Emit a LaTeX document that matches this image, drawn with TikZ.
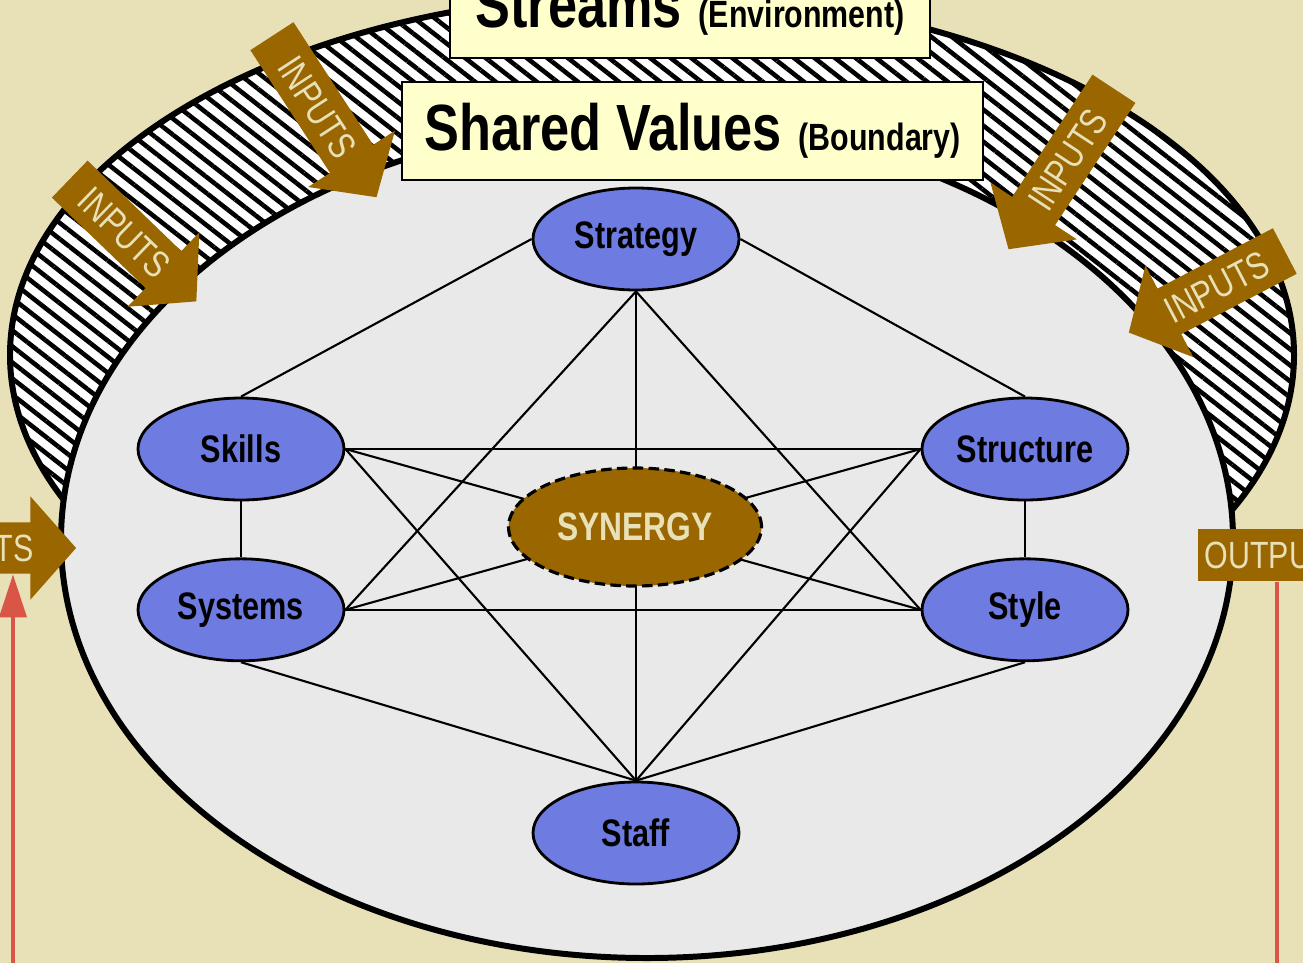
\documentclass[tikz,border=0pt]{standalone}
\usepackage{fontspec}
\setmainfont{Liberation Sans}
\newfontfamily\narrowfont{Liberation Sans}[FakeStretch=0.8]
\usetikzlibrary{arrows.meta,positioning,shapes.geometric,shapes.arrows,patterns.meta}
\definecolor{paper}{HTML}{E8E1B8}
\definecolor{umber}{HTML}{996600}
\definecolor{sevens}{HTML}{6E7BE0}
\definecolor{innergray}{HTML}{E9E9E9}
\definecolor{paleyellow}{HTML}{FFFFCC}
\definecolor{feedred}{HTML}{D95545}

\begin{document}
\begin{tikzpicture}[node distance=0.56cm,
  sfactor/.style={ellipse, draw, line width=0.8pt, fill=sevens, minimum width=2.06cm, minimum height=1.02cm, inner sep=0pt, font=\narrowfont\bfseries\fontsize{10.9}{12}\selectfont},
  link/.style={line width=0.6pt},
  banner/.style={draw, line width=0.8pt, fill=paleyellow, minimum height=0.98cm, inner sep=0pt, font=\narrowfont\bfseries},
  flow/.style={single arrow, fill=umber, text=paper, font=\narrowfont\fontsize{10.8}{12}\selectfont, single arrow head extend=0.26cm, single arrow tip angle=97, text height=0.27cm, text depth=0pt, inner ysep=0.115cm, inner xsep=0pt, minimum height=1.8cm},
  feedback/.style={line width=1.1pt, draw=feedred}]
\fill[paper] (0,0) rectangle (13.03,9.63);
\useasboundingbox (0,0) rectangle (13.03,9.63);

% environment ring and organisation
\draw[line width=1.7pt, preaction={fill=white}, pattern={Lines[angle=-38,distance=3.6pt,line width=1.3pt]}] (6.52,6.08) ellipse [x radius=6.42, y radius=3.61];
\draw[line width=1.7pt, fill=innergray] (6.47,4.23) ellipse [x radius=5.86, y radius=4.18];

\node[banner, minimum width=4.8cm] (streams) at (6.90,9.54) {{\fontsize{18.6}{20}\selectfont Streams}\hspace{0.17cm}{\fontsize{10.8}{12}\selectfont (Environment)}};
\node[banner, minimum width=5.81cm] (values) at (6.925,8.32) {{\fontsize{18.6}{20}\selectfont Shared Values}\hspace{0.17cm}{\fontsize{10.8}{12}\selectfont (Boundary)}};

% inputs and outputs
\node[flow, rotate=-44, anchor=tip, minimum height=1.76cm] (in1) at (1.97,6.61) {INPUTS};
\node[flow, rotate=-57, anchor=tip, minimum height=1.92cm] (in2) at (3.77,7.65) {INPUTS};
\node[flow, rotate=56.7, shape border rotate=180, anchor=tip, minimum height=1.92cm] (in3) at (10.08,7.13) {INPUTS};
\node[flow, rotate=27.6, shape border rotate=180, anchor=tip, minimum height=1.76cm] (in4) at (11.28,6.30) {INPUTS};
\node[flow, anchor=tip, minimum height=1.74cm] (in0) at (0.77,4.15) {INPUTS};
\node[fill=umber, text=paper, font=\narrowfont\fontsize{10.8}{12}\selectfont, anchor=west, text height=0.27cm, text depth=0pt, inner ysep=0.125cm, inner xsep=0.07cm] (out) at (11.97,4.08) {OUTPUTS};

% the seven S
\node[sfactor] (strategy) at (6.36,7.24) {Strategy};
\node[sfactor] (skills) at (2.41,5.14) {Skills};
\node[sfactor] (structure) at (10.25,5.14) {Structure};
\node[sfactor, below=of skills] (systems) {Systems};
\node[sfactor, below=of structure] (style) {Style};
\node[sfactor] (staff) at (6.36,1.30) {Staff};

\draw[link] (strategy.west) -- (skills.north);
\draw[link] (strategy.east) -- (structure.north);
\draw[link] (skills.south) -- (systems.north);
\draw[link] (structure.south) -- (style.north);
\draw[link] (systems.south) -- (staff.north);
\draw[link] (style.south) -- (staff.north);
\draw[link] (strategy.south) -- (staff.north);
\draw[link] (strategy.south) -- (systems.east);
\draw[link] (strategy.south) -- (style.west);
\draw[link] (staff.north) -- (skills.east);
\draw[link] (staff.north) -- (structure.west);
\draw[link] (skills.east) -- (structure.west);
\draw[link] (systems.east) -- (style.west);
\draw[link] (skills.east) -- (style.west);
\draw[link] (systems.east) -- (structure.west);

\node[ellipse, draw, line width=0.9pt, dash pattern=on 3pt off 1.5pt, fill=umber, text=paper, minimum width=2.53cm, minimum height=1.18cm, inner sep=0pt, font=\narrowfont\bfseries\fontsize{11.3}{12}\selectfont] (synergy) at (6.35,4.36) {SYNERGY};

% feedback loop
\coordinate (loopL) at (0.13,0);
\coordinate (loopR) at (12.77,0);
\draw[feedback, -{Triangle[length=0.43cm,width=0.27cm]}] (loopL) -- (loopL |- in0.south);
\draw[feedback] (out.south -| loopR) -- (loopR);
\end{tikzpicture}
\end{document}
